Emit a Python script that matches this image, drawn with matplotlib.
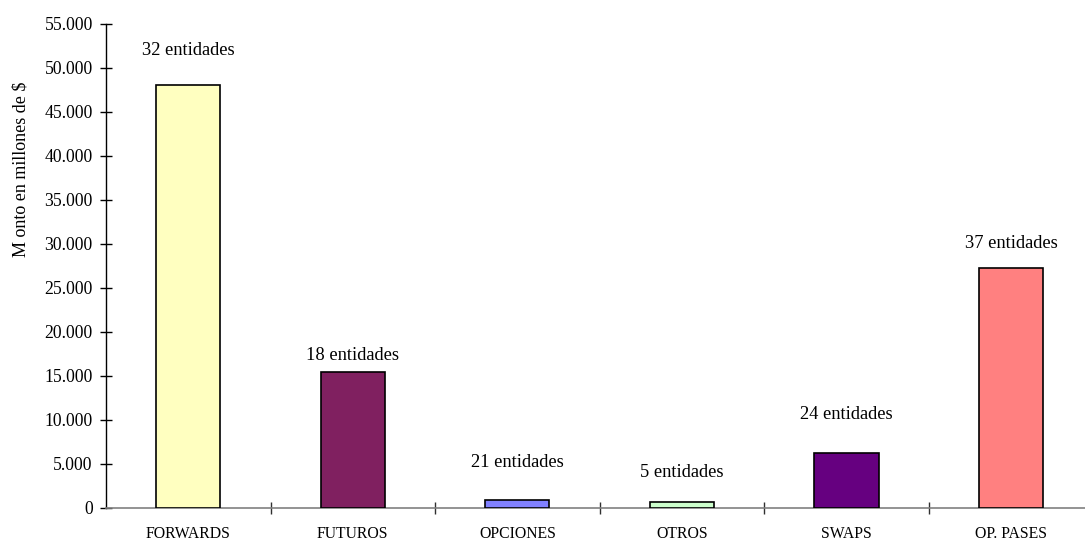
#!/usr/bin/env python3
"""Bar chart: monto en millones de $ por tipo de instrumento derivado."""
import matplotlib
matplotlib.use('Agg')
import matplotlib.pyplot as plt
from matplotlib.ticker import FuncFormatter, FixedLocator

categories = ['FORWARDS', 'FUTUROS', 'OPCIONES', 'OTROS', 'SWAPS', 'OP. PASES']
montos = [48100, 15500, 900, 700, 6200, 27300]
entidades = [32, 18, 21, 5, 24, 37]
colors = ['#FFFFC0', '#802060', '#8080FF', '#CCFFCC', '#660080', '#FF8080']
# vertical position (data units) of each annotation
label_y = [52000, 17300, 5200, 4000, 10600, 30000]

plt.rcParams['font.family'] = ['Liberation Serif', 'DejaVu Serif']

fig = plt.figure(figsize=(10.85, 5.44), dpi=100)
W, H = 1085, 544
ax = fig.add_axes([106 / W, (H - 508) / H, 1 - 106 / W, (508 - 24) / H])

x = list(range(len(categories)))
ax.bar(x, montos, width=0.39, color=colors, edgecolor='black', linewidth=1.2, zorder=3)

for xi, n, ly in zip(x, entidades, label_y):
    ax.text(xi, ly, f'{n} entidades', ha='center', va='center', fontsize=13.3)

ax.set_ylim(0, 55000)
ax.set_xlim(-0.5, 5.45)
ax.set_yticks(range(0, 55001, 5000))
ax.yaxis.set_major_formatter(FuncFormatter(lambda v, p: f'{int(v):,}'.replace(',', '.')))
ax.tick_params(axis='y', direction='inout', length=9, width=1, labelsize=12.7, pad=5)

ax.set_xticks(x)
ax.set_xticklabels(categories, fontsize=11.3)
ax.xaxis.set_minor_locator(FixedLocator([i + 0.5 for i in range(5)]))
ax.tick_params(axis='x', which='major', length=0, pad=13)
ax.tick_params(axis='x', which='minor', direction='inout', length=9, width=1, color='#303030')

ax.spines['top'].set_visible(False)
ax.spines['right'].set_visible(False)
ax.spines['left'].set_linewidth(1)
ax.spines['bottom'].set_color('#808080')
ax.spines['bottom'].set_linewidth(1.2)

ax.set_ylabel('M onto en millones de $', fontsize=13)
ax.yaxis.set_label_coords(-0.078, 0.70)

fig.savefig('out.png', dpi=100)
